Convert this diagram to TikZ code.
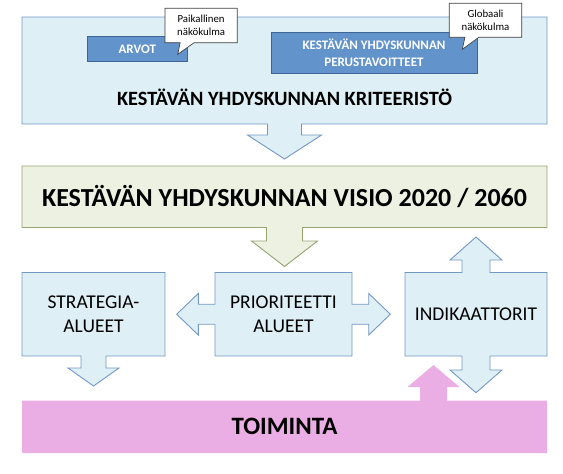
\documentclass[tikz,border=0pt]{standalone}
\usepackage{fontspec}
\setmainfont{Carlito}
\usetikzlibrary{calc,backgrounds,shapes.callouts}

\definecolor{paleblue}{RGB}{222,239,245}
\definecolor{paleblueline}{RGB}{115,152,196}
\definecolor{darkbluefill}{RGB}{98,147,203}
\definecolor{darkblueline}{RGB}{62,100,152}
\definecolor{olivefill}{RGB}{237,241,226}
\definecolor{oliveline}{RGB}{150,163,112}
\definecolor{pinkfill}{RGB}{235,174,228}

\begin{document}
\begin{tikzpicture}[x=1pt, y=-1pt,
area/.style={inner sep=0pt, outer sep=0pt},
lightshape/.style={fill=paleblue, draw=paleblueline, line width=0.9pt},
oliveshape/.style={fill=olivefill, draw=oliveline, line width=0.9pt},
darkbox/.style={area, fill=darkbluefill, draw=darkblueline, line width=0.9pt, text=white,
  font=\fontsize{13}{16.7}\selectfont\bfseries, align=center},
note/.style={rectangle callout, area, fill=white, draw=black!75, line width=0.7pt,
  callout pointer width=14pt, font=\fontsize{10.8}{12.6}\selectfont, align=center},
field/.style={area, font=\fontsize{19.5}{23.5}\selectfont, align=center},
heading/.style={area, font=\fontsize{#1}{#1}\selectfont\bfseries}]
\useasboundingbox (0,0) rectangle (563,474);

\node[area, minimum width=525, minimum height=107] (krit) at (284.5,70.5) {};
\node[heading=20.3] (kritlabel) at (284.5,97) {KESTÄVÄN YHDYSKUNNAN KRITEERISTÖ};
\node[heading=26, minimum width=525, minimum height=61.5] (visio) at (284.5,196.75)
    {KESTÄVÄN YHDYSKUNNAN VISIO 2020 / 2060};
\node[field, minimum width=143, minimum height=83.5] (strat) at (93.5,314.25) {STRATEGIA-\\ALUEET};
\node[field, minimum width=137, minimum height=83.5] (prior) at (283.5,314.25) {PRIORITEETTI\\ALUEET};
\node[field, minimum width=142, minimum height=83.5] (indik) at (476,314.25) {INDIKAATTORIT};
\node[heading=25, minimum width=525, minimum height=52.5] (toim) at (284.5,426.75) {TOIMINTA};
\coordinate (lift) at ($(toim.north west)+(411.5,0)$);

\begin{scope}[on background layer]
\draw[lightshape] (krit.north west) -- (krit.north east) -- (krit.south east)
    -- ($(krit.south)+(17,0)$) -- ++(0,11) -- ++(20,0) -- ($(krit.south)+(0,35)$)
    -- ($(krit.south)+(-37,11)$) -- ++(20,0) -- ++(0,-11) -- (krit.south west) -- cycle;
\draw[oliveshape] (visio.north west) -- (visio.north east) -- (visio.south east)
    -- ($(visio.south)+(18,0)$) -- ++(0,13.5) -- ++(15,0) -- ($(visio.south)+(0,39)$)
    -- ($(visio.south)+(-33,13.5)$) -- ++(15,0) -- ++(0,-13.5) -- (visio.south west) -- cycle;
\draw[lightshape] (strat.north west) -- (strat.north east) -- (strat.south east)
    -- ($(strat.south)+(12.5,0)$) -- ++(0,12) -- ++(13,0) -- ($(strat.south)+(0,30)$)
    -- ($(strat.south)+(-25.5,12)$) -- ++(13,0) -- ++(0,-12) -- (strat.south west) -- cycle;
\draw[lightshape] (prior.north west) -- (prior.north east)
    -- ($(prior.east)+(0,-10)$) -- ++(16.7,0) -- ++(0,-10.8) -- ($(prior.east)+(38.3,0)$)
    -- ($(prior.east)+(16.7,20.8)$) -- ++(0,-10.8) -- ++(-16.7,0)
    -- (prior.south east) -- (prior.south west)
    -- ($(prior.west)+(0,10)$) -- ++(-16.7,0) -- ++(0,10.8) -- ($(prior.west)+(-38.3,0)$)
    -- ($(prior.west)+(-16.7,-20.8)$) -- ++(0,10.8) -- ++(16.7,0) -- cycle;
\draw[lightshape] (indik.north west)
    -- ($(indik.north)+(-14,0)$) -- ++(0,-12.5) -- ++(-12,0) -- ($(indik.north)+(0,-35.5)$)
    -- ($(indik.north)+(26,-12.5)$) -- ++(-12,0) -- ++(0,12.5)
    -- (indik.north east) -- (indik.south east)
    -- ($(indik.south)+(14,0)$) -- ++(0,14) -- ++(12,0) -- ($(indik.south)+(0,36.7)$)
    -- ($(indik.south)+(-26,14)$) -- ++(12,0) -- ++(0,-14) -- (indik.south west) -- cycle;
\fill[pinkfill] (toim.north west) -- ($(lift)+(-13.5,0)$) -- ++(0,-13.5) -- ++(-12.5,0)
    -- ($(lift)+(0,-35.5)$) -- ($(lift)+(26,-13.5)$) -- ++(-12.5,0) -- ++(0,13.5)
    -- (toim.north east) -- (toim.south east) -- (toim.south west) -- cycle;
\end{scope}

\node[darkbox, minimum width=100, minimum height=24.8] (arvot) at (137.3,49.1) {ARVOT};
\node[darkbox, minimum width=206, minimum height=41.5] (perus) at (374,52.75)
    {KESTÄVÄN YHDYSKUNNAN\\PERUSTAVOITTEET};
\node[note, minimum width=72.3, minimum height=34.4, callout absolute pointer={(177.7,54.3)}]
    (paik) at (201.15,25.5) {Paikallinen\\näkökulma};
\node[note, minimum width=72.4, minimum height=34, callout absolute pointer={(462.3,49.3)}]
    (glob) at (485.5,20.3) {Globaali\\näkökulma};
\end{tikzpicture}
\end{document}
